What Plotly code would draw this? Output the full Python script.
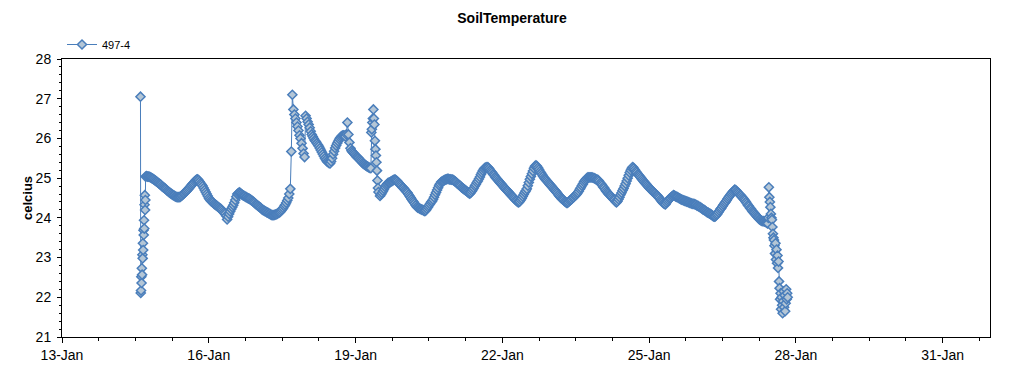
import plotly.graph_objects as go
import pandas as pd

# ---- data: each block = start time, sampling step (minutes), readings (celcius)
seg_start = ["2014-01-14 14:30", "2014-01-14 17:00", "2014-01-17 15:30",
             "2014-01-19 07:45", "2014-01-19 12:00", "2014-01-27 09:45"]
seg_step_min = [8, 30, 30, 15, 30, 15]

vals_a = [27.05, 22.11, 22.17, 22.52, 22.36, 22.73, 22.57, 23.07, 22.98, 23.36,
          23.19, 23.69, 23.57, 23.94, 23.73, 24.33, 24.57, 24.20, 24.45]

vals_b = [25.04, 25.05, 25.04, 25.04, 25.03, 25.02, 25.00, 24.99, 24.97, 24.95,
          24.93, 24.91, 24.89, 24.87, 24.85, 24.83, 24.80, 24.78, 24.76, 24.74,
          24.72, 24.69, 24.67, 24.65, 24.63, 24.61, 24.59, 24.57, 24.56, 24.54,
          24.53, 24.52, 24.52, 24.52, 24.53, 24.55, 24.57, 24.60, 24.62, 24.65,
          24.67, 24.70, 24.73, 24.76, 24.79, 24.82, 24.85, 24.88, 24.91, 24.94,
          24.96, 24.97, 24.95, 24.91, 24.87, 24.84, 24.80, 24.75, 24.70, 24.65,
          24.60, 24.55, 24.50, 24.46, 24.43, 24.41, 24.39, 24.36, 24.34, 24.32,
          24.30, 24.28, 24.26, 24.24, 24.22, 24.19, 24.16, 24.13, 24.10, 24.05,
          23.96, 24.03, 24.10, 24.16, 24.22, 24.27, 24.32, 24.38, 24.45, 24.53,
          24.60, 24.62, 24.64, 24.62, 24.60, 24.58, 24.56, 24.55, 24.53, 24.52,
          24.50, 24.49, 24.48, 24.46, 24.44, 24.42, 24.40, 24.38, 24.35, 24.33,
          24.31, 24.29, 24.27, 24.25, 24.22, 24.20, 24.19, 24.17, 24.16, 24.14,
          24.13, 24.11, 24.10, 24.08, 24.07, 24.07, 24.07, 24.08, 24.09, 24.10,
          24.12, 24.13, 24.15, 24.18, 24.21, 24.25, 24.29, 24.33, 24.38, 24.44,
          24.50]

vals_c = [24.60, 24.73, 25.67, 27.10, 26.73, 26.60, 26.50, 26.40, 26.30, 26.20,
          26.08, 26.00, 25.88, 25.75, 25.62, 25.53, 26.57, 26.50, 26.42, 26.35,
          26.27, 26.18, 26.10, 26.05, 26.00, 25.95, 25.92, 25.88, 25.84, 25.80,
          25.75, 25.70, 25.65, 25.60, 25.55, 25.50, 25.46, 25.42, 25.40, 25.38,
          25.37, 25.42, 25.50, 25.60, 25.68, 25.76, 25.82, 25.88, 25.93, 25.98,
          26.02, 26.05, 26.07, 26.08, 26.07, 26.05, 26.10, 26.40, 26.10, 25.90,
          25.75, 25.69, 25.66, 25.63, 25.60, 25.57, 25.54, 25.52, 25.50, 25.47,
          25.44, 25.41, 25.38, 25.36, 25.34, 25.32, 25.30, 25.29, 25.27, 25.26,
          25.25]

vals_d = [26.15, 26.23, 26.40, 26.50, 26.73, 26.50, 26.35, 25.94, 25.73, 25.57,
          25.40, 25.19, 24.94, 24.75, 24.65]

vals_e = [24.55, 24.59, 24.63, 24.68, 24.73, 24.78, 24.82, 24.85, 24.88, 24.89,
          24.90, 24.92, 24.93, 24.95, 24.96, 24.96, 24.94, 24.92, 24.89, 24.86,
          24.83, 24.80, 24.77, 24.75, 24.72, 24.69, 24.66, 24.63, 24.59, 24.55,
          24.51, 24.47, 24.43, 24.40, 24.36, 24.32, 24.28, 24.26, 24.25, 24.23,
          24.22, 24.21, 24.20, 24.18, 24.17, 24.19, 24.23, 24.27, 24.31, 24.35,
          24.39, 24.42, 24.46, 24.52, 24.58, 24.64, 24.70, 24.76, 24.82, 24.86,
          24.90, 24.92, 24.93, 24.95, 24.96, 24.97, 24.98, 24.98, 24.97, 24.97,
          24.96, 24.96, 24.95, 24.93, 24.91, 24.89, 24.86, 24.84, 24.82, 24.80,
          24.77, 24.75, 24.73, 24.71, 24.69, 24.67, 24.65, 24.63, 24.61, 24.63,
          24.67, 24.71, 24.75, 24.80, 24.84, 24.89, 24.93, 24.98, 25.03, 25.09,
          25.14, 25.19, 25.23, 25.26, 25.27, 25.28, 25.27, 25.24, 25.20, 25.17,
          25.14, 25.10, 25.07, 25.03, 25.00, 24.97, 24.94, 24.91, 24.88, 24.85,
          24.82, 24.79, 24.76, 24.73, 24.70, 24.68, 24.65, 24.62, 24.59, 24.56,
          24.54, 24.51, 24.48, 24.45, 24.43, 24.40, 24.39, 24.41, 24.45, 24.49,
          24.54, 24.59, 24.64, 24.68, 24.73, 24.81, 24.89, 24.97, 25.04, 25.11,
          25.18, 25.25, 25.30, 25.32, 25.30, 25.26, 25.22, 25.17, 25.13, 25.09,
          25.05, 25.01, 24.98, 24.95, 24.92, 24.89, 24.86, 24.83, 24.80, 24.77,
          24.74, 24.71, 24.68, 24.65, 24.62, 24.58, 24.55, 24.52, 24.49, 24.47,
          24.45, 24.42, 24.40, 24.38, 24.38, 24.40, 24.43, 24.45, 24.47, 24.50,
          24.52, 24.55, 24.57, 24.60, 24.63, 24.67, 24.72, 24.76, 24.81, 24.85,
          24.90, 24.94, 24.97, 25.00, 25.02, 25.02, 25.02, 25.02, 25.02, 25.01,
          25.00, 24.99, 24.97, 24.96, 24.95, 24.92, 24.88, 24.85, 24.82, 24.78,
          24.75, 24.71, 24.67, 24.64, 24.61, 24.58, 24.56, 24.53, 24.50, 24.47,
          24.45, 24.41, 24.39, 24.42, 24.47, 24.52, 24.58, 24.63, 24.69, 24.74,
          24.80, 24.86, 24.93, 25.00, 25.07, 25.14, 25.20, 25.25, 25.28, 25.25,
          25.21, 25.17, 25.14, 25.10, 25.07, 25.04, 25.01, 24.97, 24.94, 24.91,
          24.88, 24.85, 24.82, 24.79, 24.76, 24.73, 24.71, 24.68, 24.66, 24.63,
          24.61, 24.58, 24.56, 24.53, 24.50, 24.46, 24.43, 24.40, 24.37, 24.35,
          24.34, 24.38, 24.42, 24.45, 24.48, 24.50, 24.53, 24.55, 24.57, 24.56,
          24.54, 24.53, 24.52, 24.50, 24.49, 24.47, 24.46, 24.45, 24.44, 24.43,
          24.42, 24.41, 24.40, 24.39, 24.38, 24.37, 24.36, 24.35, 24.35, 24.34,
          24.33, 24.31, 24.30, 24.28, 24.27, 24.25, 24.23, 24.21, 24.20, 24.18,
          24.16, 24.14, 24.13, 24.11, 24.10, 24.08, 24.06, 24.04, 24.03, 24.04,
          24.07, 24.10, 24.14, 24.18, 24.22, 24.25, 24.29, 24.33, 24.37, 24.40,
          24.44, 24.48, 24.52, 24.55, 24.59, 24.62, 24.65, 24.68, 24.71, 24.70,
          24.67, 24.64, 24.61, 24.58, 24.56, 24.53, 24.50, 24.47, 24.44, 24.40,
          24.36, 24.32, 24.29, 24.25, 24.22, 24.18, 24.15, 24.12, 24.09, 24.06,
          24.03, 24.00, 23.97, 23.95, 23.93, 23.92, 23.92, 23.91, 23.90, 23.89]

vals_f = [23.88, 23.87, 23.86, 24.00, 24.77, 24.52, 24.40, 24.27, 24.10, 24.00,
          23.95, 23.77, 23.60, 23.50, 23.44, 23.30, 23.10, 23.36, 22.95, 23.20,
          22.86, 23.05, 22.74, 22.90, 22.40, 22.23, 21.95, 22.10, 21.70, 22.00,
          21.80, 21.60, 21.90, 22.15, 21.75, 22.05, 21.65, 21.85, 22.20, 21.95,
          22.10, 22.00]

seg_vals = [vals_a, vals_b, vals_c, vals_d, vals_e, vals_f]

series_name = "497-4"
chart_title = "SoilTemperature"
y_title = "celcius"
x_range = ["2014-01-13 00:00", "2014-01-31 23:14"]
y_range = [21, 28]

# ---- build
times, temps = [], []
for st, step, vals in zip(seg_start, seg_step_min, seg_vals):
    t = pd.date_range(st, periods=len(vals), freq=f"{step}min")
    times.extend(t)
    temps.extend(vals)

LINE = "#4A7EBB"
FILL = "#B4C6D6"
FONT = "Liberation Sans, Arial, sans-serif"
DAY = 86400000
MINOR_X = 18 * 3600000

fig = go.Figure()
fig.add_trace(go.Scatter(
    x=times, y=temps, mode="lines+markers", name=series_name,
    line=dict(color=LINE, width=1),
    marker=dict(symbol="diamond", size=7, color=FILL, line=dict(color=LINE, width=1.5)),
    showlegend=True,
))

common_x = dict(type="date", range=x_range, tick0="2014-01-13", dtick=3 * DAY,
                showgrid=False, zeroline=False)
common_y = dict(range=y_range, tick0=21, dtick=1, showgrid=False, zeroline=False)

fig.update_layout(
    width=1024, height=375,
    margin=dict(l=62, r=34, t=59, b=36),
    paper_bgcolor="white", plot_bgcolor="white",
    font=dict(family=FONT, size=14, color="black"),
    title=dict(text=f"<b>{chart_title}</b>", x=0.5, xanchor="center",
               y=0.952, yanchor="middle", yref="container",
               font=dict(size=14, family=FONT, color="black")),
    showlegend=True,
    legend=dict(x=0, y=1, xanchor="left", yanchor="bottom", orientation="h",
                font=dict(size=11, family=FONT), bgcolor="rgba(0,0,0,0)",
                itemwidth=30),
    xaxis=dict(**common_x, tickformat="%d-%b", ticks="outside", ticklen=5,
               tickcolor="black", showline=True, linecolor="black", linewidth=1,
               mirror=True, tickfont=dict(size=14),
               minor=dict(dtick=MINOR_X, tick0="2014-01-13", ticks="outside",
                          ticklen=3, tickcolor="black", showgrid=False)),
    xaxis2=dict(**common_x, overlaying="x", anchor="y", side="bottom",
                showticklabels=False, ticks="inside", ticklen=6, tickcolor="black",
                showline=False,
                minor=dict(dtick=MINOR_X, tick0="2014-01-13", ticks="inside",
                           ticklen=3, tickcolor="black", showgrid=False)),
    xaxis3=dict(**common_x, overlaying="x", anchor="y", side="top",
                showticklabels=False, ticks="inside", ticklen=5, tickcolor="black",
                showline=False,
                minor=dict(dtick=MINOR_X, tick0="2014-01-13", ticks="inside",
                           ticklen=3, tickcolor="black", showgrid=False)),
    yaxis=dict(**common_y, ticks="outside", ticklen=4, tickcolor="black",
               showline=True, linecolor="black", linewidth=1, mirror=True,
               tickfont=dict(size=14), ticklabelstandoff=3,
               minor=dict(dtick=0.2, ticks="outside", ticklen=2, tickcolor="black",
                          showgrid=False)),
    yaxis2=dict(**common_y, overlaying="y", anchor="x", side="left",
                showticklabels=False, ticks="inside", ticklen=5, tickcolor="black",
                showline=False,
                minor=dict(dtick=0.2, ticks="inside", ticklen=3, tickcolor="black",
                           showgrid=False)),
    yaxis3=dict(**common_y, overlaying="y", anchor="x", side="right",
                showticklabels=False, ticks="inside", ticklen=4, tickcolor="black",
                showline=False,
                minor=dict(dtick=0.2, ticks="inside", ticklen=3, tickcolor="black",
                           showgrid=False)),
    annotations=[dict(text=f"<b>{y_title}</b>", xref="paper", yref="paper",
                      x=-0.0377, y=0.5, xanchor="center", yanchor="middle",
                      textangle=-90, showarrow=False,
                      font=dict(size=13, family=FONT, color="black"))],
)

fig.write_html("out.html", config={"displayModeBar": False},
               post_script="document.body.style.margin='0';document.body.style.overflow='hidden';")
